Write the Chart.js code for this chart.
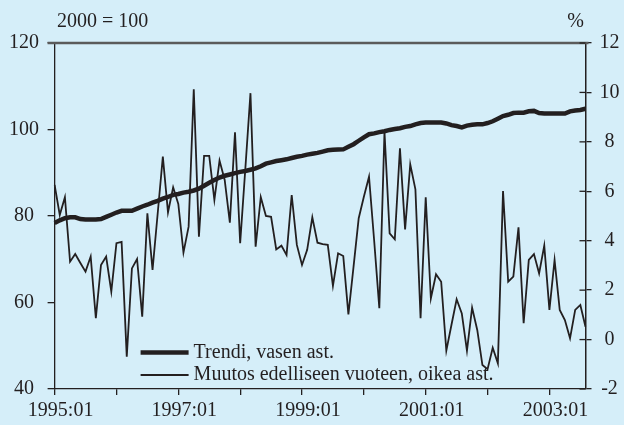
<!DOCTYPE html>
<html>
<head>
<meta charset="utf-8">
<script src="https://cdn.jsdelivr.net/npm/chart.js@4.4.1/dist/chart.umd.min.js"></script>
<style>
    body { margin: 0; background: #d5eef9; }
    #wrap { position: relative; width: 624px; height: 425px; }
</style>
</head>
<body>
<div id="wrap"><canvas id="chart"></canvas></div>
<script>
// months 1995:01 .. 2003:08
const months = [];
for (let y = 1995; y <= 2003; y++) {
    for (let m = 1; m <= 12; m++) {
        if (y === 2003 && m > 8) break;
        months.push(y + ":" + String(m).padStart(2, "0"));
    }
}
const yearLabels = ["1995:01", "1997:01", "1999:01", "2001:01", "2003:01"];

// Trendi, 2000 = 100 (left axis)
const trend = [
    78.4, 79.0, 79.5, 79.7, 79.7, 79.3, 79.2, 79.2, 79.2, 79.3,
    79.8, 80.3, 80.8, 81.2, 81.2, 81.2, 81.7, 82.2, 82.6, 83.1,
    83.5, 84.0, 84.4, 84.9, 85.1, 85.4, 85.6, 85.9, 86.3, 87.0,
    87.7, 88.3, 88.9, 89.3, 89.6, 89.9, 90.2, 90.4, 90.7, 91.0,
    91.5, 92.1, 92.4, 92.7, 92.9, 93.1, 93.4, 93.7, 93.9, 94.2,
    94.4, 94.6, 94.9, 95.2, 95.3, 95.35, 95.4, 96.0, 96.6, 97.4,
    98.2, 98.9, 99.1, 99.4, 99.6, 99.9, 100.1, 100.3, 100.6, 100.8,
    101.2, 101.5, 101.6, 101.6, 101.6, 101.6, 101.4, 101.0, 100.8, 100.5,
    100.9, 101.1, 101.2, 101.2, 101.5, 101.9, 102.5, 103.1, 103.4, 103.8,
    103.9, 103.9, 104.2, 104.3, 103.8, 103.7, 103.7, 103.7, 103.7, 103.7,
    104.2, 104.4, 104.5, 104.8
];

// Muutos edelliseen vuoteen, % (right axis)
const change = [
    6.26, 5.04, 5.76, 3.15, 3.46, 3.1, 2.75, 3.36, 0.87, 3.02,
    3.36, 1.94, 3.9, 3.95, -0.69, 2.88, 3.26, 0.93, 5.11, 2.82,
    5.1, 7.4, 5.15, 6.16, 5.49, 3.52, 4.57, 10.13, 4.16, 7.43,
    7.43, 5.65, 7.24, 6.46, 4.73, 8.39, 3.9, 6.9, 9.97, 3.76,
    5.76, 5.0, 4.97, 3.65, 3.8, 3.42, 5.85, 3.83, 3.02, 3.63,
    4.95, 3.92, 3.86, 3.83, 2.17, 3.49, 3.38, 1.02, 2.95, 4.91,
    5.78, 6.59, 4.0, 1.27, 8.41, 4.3, 4.06, 7.74, 4.46, 7.09,
    6.08, 0.86, 5.76, 1.67, 2.64, 2.34, -0.45, 0.6, 1.63, 1.06,
    -0.45, 1.29, 0.39, -1.03, -1.2, -0.33, -0.96, 6.01, 2.34, 2.55,
    4.54, 0.66, 3.22, 3.46, 2.68, 3.8, 1.2, 3.22, 1.2, 0.79,
    0.05, 1.2, 1.4, 0.52
];

const ink = "#231f20";
const bg = "#d5eef9";
const serif = "'Liberation Serif', 'Times New Roman', serif";
const fontPx = 20;

// background, top frame line, inner tick halves, corner texts and legend
const decor = {
    id: "decor",
    beforeDraw(chart) {
        const ctx = chart.ctx;
        ctx.save();
        ctx.fillStyle = bg;
        ctx.fillRect(0, 0, chart.width, chart.height);
        ctx.restore();
    },
    afterDraw(chart) {
        const ctx = chart.ctx;
        const a = chart.chartArea;
        const y2 = chart.scales.y2;
        ctx.save();

        ctx.strokeStyle = "#5b5b5b";
        ctx.lineWidth = 2.5;
        ctx.beginPath();
        ctx.moveTo(a.left - 7, a.top);
        ctx.lineTo(a.right + 3, a.top);
        ctx.stroke();

        ctx.strokeStyle = ink;
        ctx.lineWidth = 1.3;
        y2.ticks.forEach(t => {
            const y = y2.getPixelForValue(t.value);
            ctx.beginPath();
            ctx.moveTo(a.right - 6, y);
            ctx.lineTo(a.right, y);
            ctx.stroke();
        });

        ctx.fillStyle = ink;
        ctx.font = fontPx + "px " + serif;
        ctx.textBaseline = "alphabetic";
        ctx.textAlign = "left";
        ctx.fillText("2000 = 100", 57, 27);
        ctx.textAlign = "right";
        ctx.fillText("%", 584, 27);

        ctx.textAlign = "left";
        chart.data.datasets.forEach((ds, i) => {
            const y = 352.5 + i * 22.5;
            ctx.strokeStyle = ds.borderColor;
            ctx.lineWidth = ds.borderWidth;
            ctx.beginPath();
            ctx.moveTo(a.left + 86, y);
            ctx.lineTo(a.left + 134, y);
            ctx.stroke();
            ctx.fillText(ds.label, a.left + 139, y + 5);
        });
        ctx.restore();
    }
};

new Chart(document.getElementById("chart"), {
    type: "line",
    data: {
        labels: months,
        datasets: [
            {
                label: "Trendi, vasen ast.",
                data: trend,
                yAxisID: "y",
                borderColor: ink,
                borderWidth: 4.5,
                pointRadius: 0,
                tension: 0
            },
            {
                label: "Muutos edelliseen vuoteen, oikea ast.",
                data: change,
                yAxisID: "y2",
                borderColor: ink,
                borderWidth: 1.8,
                pointRadius: 0,
                tension: 0
            }
        ]
    },
    options: {
        responsive: true,
        maintainAspectRatio: false,
        animation: false,
        layout: { padding: { top: 43, left: 0, right: 0, bottom: 0 } },
        plugins: {
            legend: { display: false },
            tooltip: { enabled: false }
        },
        scales: {
            x: {
                offset: false,
                afterFit: s => { s.height = 36; },
                border: { display: true, color: ink, width: 1.3 },
                grid: {
                    drawOnChartArea: false,
                    drawTicks: true,
                    tickLength: 6,
                    lineWidth: 1.3,
                    color: c => (months[c.index] || "").endsWith(":01") ? ink : "rgba(0,0,0,0)"
                },
                ticks: {
                    autoSkip: false,
                    maxRotation: 0,
                    padding: 4,
                    labelOffset: 6,
                    color: ink,
                    font: { family: serif, size: fontPx },
                    callback: function (v) {
                        const l = this.getLabelForValue(v);
                        return yearLabels.includes(l) ? l : "";
                    }
                }
            },
            y: {
                position: "left",
                min: 40,
                max: 120,
                afterFit: s => { s.width = 54.6; },
                border: { display: true, color: ink, width: 1.3 },
                grid: { drawOnChartArea: false, tickLength: 7, color: ink, lineWidth: 1.3 },
                ticks: {
                    stepSize: 20,
                    padding: 8.6,
                    crossAlign: "center",
                    color: ink,
                    font: { family: serif, size: fontPx }
                }
            },
            y2: {
                position: "right",
                min: -2,
                max: 12,
                afterFit: s => { s.width = 38.5; },
                border: { display: true, color: ink, width: 1.5 },
                grid: { drawOnChartArea: false, tickLength: 6, color: ink, lineWidth: 1.3 },
                ticks: {
                    stepSize: 2,
                    padding: 8,
                    crossAlign: "center",
                    color: ink,
                    font: { family: serif, size: fontPx }
                }
            }
        }
    },
    plugins: [decor]
});
</script>
</body>
</html>
